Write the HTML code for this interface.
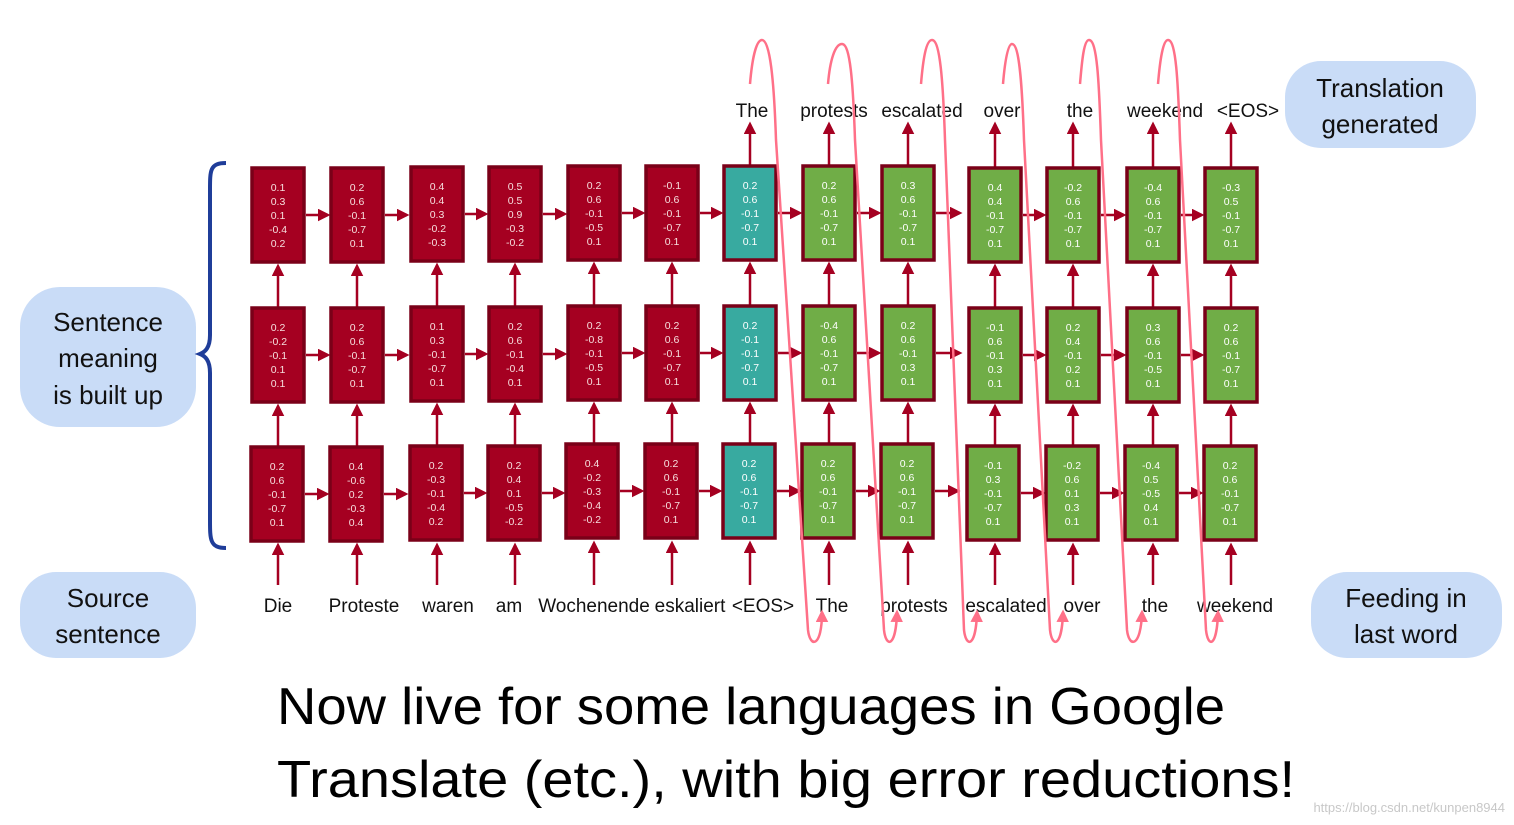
<!DOCTYPE html>
<html><head><meta charset="utf-8"><style>
html,body{margin:0;padding:0;background:#fff;}
svg{display:block;font-family:"Liberation Sans",sans-serif;}
.r rect{fill:#a50021;stroke:#7a0018;stroke-width:3.5}
.t rect{fill:#38aaa0;stroke:#7a0018;stroke-width:3.5}
.g rect{fill:#70ad47;stroke:#7a0018;stroke-width:3.5}
.r text{fill:#f6dede}
.t text,.g text{fill:#ffffff}
g text{font-size:10.5px;text-anchor:middle}
.lbl{font-size:19px;fill:#111;text-anchor:middle}
.bub{font-size:26px;fill:#111;text-anchor:middle}
.ln{stroke:#a50021;stroke-width:2.5;fill:none}
.pk{stroke:#ff7088;stroke-width:2.5;fill:none}
</style></head><body>
<svg width="1514" height="825" viewBox="0 0 1514 825">
<defs>
<marker id="a" viewBox="0 0 10 10" refX="8" refY="5" markerWidth="5" markerHeight="5" orient="auto"><path d="M0,0L10,5L0,10z" fill="#a50021"/></marker>
<marker id="p" viewBox="0 0 10 10" refX="8" refY="5" markerWidth="5" markerHeight="5" orient="auto"><path d="M0,0L10,5L0,10z" fill="#ff7088"/></marker>
</defs>

<!-- bubbles -->
<rect x="20" y="287" width="176" height="140" rx="40" fill="#c9dcf7"/>
<text class="bub" x="108" y="331">Sentence</text>
<text class="bub" x="108" y="367">meaning</text>
<text class="bub" x="108" y="404">is built up</text>
<rect x="20" y="572" width="176" height="86" rx="36" fill="#c9dcf7"/>
<text class="bub" x="108" y="607">Source</text>
<text class="bub" x="108" y="643">sentence</text>
<rect x="1285" y="61" width="191" height="87" rx="36" fill="#c9dcf7"/>
<text class="bub" x="1380" y="97">Translation</text>
<text class="bub" x="1380" y="133">generated</text>
<rect x="1311" y="572" width="191" height="86" rx="36" fill="#c9dcf7"/>
<text class="bub" x="1406" y="607">Feeding in</text>
<text class="bub" x="1406" y="643">last word</text>

<!-- brace -->
<path d="M226,163 C210,163 210,170 210,190 L210,335 C210,348 205,352 200,354 C205,356 210,360 210,373 L210,520 C210,540 210,548 226,548" stroke="#1f3d99" stroke-width="4" fill="none"/>

<!-- input arrows -->
<path class="ln" marker-end="url(#a)" d="M278,585V545"/><path class="ln" marker-end="url(#a)" d="M357,585V545"/><path class="ln" marker-end="url(#a)" d="M437,585V545"/><path class="ln" marker-end="url(#a)" d="M515,585V545"/><path class="ln" marker-end="url(#a)" d="M594,585V543"/><path class="ln" marker-end="url(#a)" d="M672,585V543"/><path class="ln" marker-end="url(#a)" d="M750,585V543"/><path class="ln" marker-end="url(#a)" d="M829,585V543"/><path class="ln" marker-end="url(#a)" d="M908,585V543"/><path class="ln" marker-end="url(#a)" d="M995,585V545"/><path class="ln" marker-end="url(#a)" d="M1073,585V545"/><path class="ln" marker-end="url(#a)" d="M1153,585V545"/><path class="ln" marker-end="url(#a)" d="M1231,585V545"/>
<!-- row3 -> row2 -->
<path class="ln" marker-end="url(#a)" d="M278,446V406"/><path class="ln" marker-end="url(#a)" d="M357,446V406"/><path class="ln" marker-end="url(#a)" d="M437,446V405"/><path class="ln" marker-end="url(#a)" d="M515,446V405"/><path class="ln" marker-end="url(#a)" d="M594,444V404"/><path class="ln" marker-end="url(#a)" d="M672,444V404"/><path class="ln" marker-end="url(#a)" d="M750,444V404"/><path class="ln" marker-end="url(#a)" d="M829,444V404"/><path class="ln" marker-end="url(#a)" d="M908,444V404"/><path class="ln" marker-end="url(#a)" d="M995,446V406"/><path class="ln" marker-end="url(#a)" d="M1073,446V406"/><path class="ln" marker-end="url(#a)" d="M1153,446V406"/><path class="ln" marker-end="url(#a)" d="M1231,446V406"/>
<!-- row2 -> row1 -->
<path class="ln" marker-end="url(#a)" d="M278,307V266"/><path class="ln" marker-end="url(#a)" d="M357,307V266"/><path class="ln" marker-end="url(#a)" d="M437,306V265"/><path class="ln" marker-end="url(#a)" d="M515,306V265"/><path class="ln" marker-end="url(#a)" d="M594,305V264"/><path class="ln" marker-end="url(#a)" d="M672,305V264"/><path class="ln" marker-end="url(#a)" d="M750,305V264"/><path class="ln" marker-end="url(#a)" d="M829,305V264"/><path class="ln" marker-end="url(#a)" d="M908,305V264"/><path class="ln" marker-end="url(#a)" d="M995,307V266"/><path class="ln" marker-end="url(#a)" d="M1073,307V266"/><path class="ln" marker-end="url(#a)" d="M1153,307V266"/><path class="ln" marker-end="url(#a)" d="M1231,307V266"/>
<!-- outputs -->
<path class="ln" marker-end="url(#a)" d="M750,165V124"/><path class="ln" marker-end="url(#a)" d="M829,165V124"/><path class="ln" marker-end="url(#a)" d="M908,165V124"/><path class="ln" marker-end="url(#a)" d="M995,167V124"/><path class="ln" marker-end="url(#a)" d="M1073,167V124"/><path class="ln" marker-end="url(#a)" d="M1153,167V124"/><path class="ln" marker-end="url(#a)" d="M1231,167V124"/>

<!-- horizontal arrows row1 -->
<path class="ln" marker-end="url(#a)" d="M306,215H328"/><path class="ln" marker-end="url(#a)" d="M385,215H407"/><path class="ln" marker-end="url(#a)" d="M465,214H486"/><path class="ln" marker-end="url(#a)" d="M543,214H565"/><path class="ln" marker-end="url(#a)" d="M622,213H643"/><path class="ln" marker-end="url(#a)" d="M700,213H721"/><path class="ln" marker-end="url(#a)" d="M778,213H800"/><path class="ln" marker-end="url(#a)" d="M857,213H879"/><path class="ln" marker-end="url(#a)" d="M936,213H960"/><path class="ln" marker-end="url(#a)" d="M1023,215H1044"/><path class="ln" marker-end="url(#a)" d="M1101,215H1124"/><path class="ln" marker-end="url(#a)" d="M1181,215H1202"/>
<!-- row2 -->
<path class="ln" marker-end="url(#a)" d="M306,355H328"/><path class="ln" marker-end="url(#a)" d="M385,355H407"/><path class="ln" marker-end="url(#a)" d="M465,354H486"/><path class="ln" marker-end="url(#a)" d="M543,354H565"/><path class="ln" marker-end="url(#a)" d="M622,353H643"/><path class="ln" marker-end="url(#a)" d="M700,353H721"/><path class="ln" marker-end="url(#a)" d="M778,353H800"/><path class="ln" marker-end="url(#a)" d="M857,353H879"/><path class="ln" marker-end="url(#a)" d="M936,353H960"/><path class="ln" marker-end="url(#a)" d="M1023,355H1044"/><path class="ln" marker-end="url(#a)" d="M1101,355H1124"/><path class="ln" marker-end="url(#a)" d="M1181,355H1202"/>
<!-- row3 -->
<path class="ln" marker-end="url(#a)" d="M305,494H327"/><path class="ln" marker-end="url(#a)" d="M384,494H406"/><path class="ln" marker-end="url(#a)" d="M464,493H485"/><path class="ln" marker-end="url(#a)" d="M542,493H563"/><path class="ln" marker-end="url(#a)" d="M620,491H642"/><path class="ln" marker-end="url(#a)" d="M699,491H720"/><path class="ln" marker-end="url(#a)" d="M777,491H799"/><path class="ln" marker-end="url(#a)" d="M856,491H878"/><path class="ln" marker-end="url(#a)" d="M935,491H958"/><path class="ln" marker-end="url(#a)" d="M1021,493H1043"/><path class="ln" marker-end="url(#a)" d="M1100,493H1122"/><path class="ln" marker-end="url(#a)" d="M1179,493H1201"/>

<!-- boxes row1 -->
<g class="r" transform="translate(252,168)"><rect width="52" height="94"/><text x="26" y="23">0.1</text><text x="26" y="37">0.3</text><text x="26" y="51">0.1</text><text x="26" y="65">-0.4</text><text x="26" y="79">0.2</text></g>
<g class="r" transform="translate(331,168)"><rect width="52" height="94"/><text x="26" y="23">0.2</text><text x="26" y="37">0.6</text><text x="26" y="51">-0.1</text><text x="26" y="65">-0.7</text><text x="26" y="79">0.1</text></g>
<g class="r" transform="translate(411,167)"><rect width="52" height="94"/><text x="26" y="23">0.4</text><text x="26" y="37">0.4</text><text x="26" y="51">0.3</text><text x="26" y="65">-0.2</text><text x="26" y="79">-0.3</text></g>
<g class="r" transform="translate(489,167)"><rect width="52" height="94"/><text x="26" y="23">0.5</text><text x="26" y="37">0.5</text><text x="26" y="51">0.9</text><text x="26" y="65">-0.3</text><text x="26" y="79">-0.2</text></g>
<g class="r" transform="translate(568,166)"><rect width="52" height="94"/><text x="26" y="23">0.2</text><text x="26" y="37">0.6</text><text x="26" y="51">-0.1</text><text x="26" y="65">-0.5</text><text x="26" y="79">0.1</text></g>
<g class="r" transform="translate(646,166)"><rect width="52" height="94"/><text x="26" y="23">-0.1</text><text x="26" y="37">0.6</text><text x="26" y="51">-0.1</text><text x="26" y="65">-0.7</text><text x="26" y="79">0.1</text></g>
<g class="t" transform="translate(724,166)"><rect width="52" height="94"/><text x="26" y="23">0.2</text><text x="26" y="37">0.6</text><text x="26" y="51">-0.1</text><text x="26" y="65">-0.7</text><text x="26" y="79">0.1</text></g>
<g class="g" transform="translate(803,166)"><rect width="52" height="94"/><text x="26" y="23">0.2</text><text x="26" y="37">0.6</text><text x="26" y="51">-0.1</text><text x="26" y="65">-0.7</text><text x="26" y="79">0.1</text></g>
<g class="g" transform="translate(882,166)"><rect width="52" height="94"/><text x="26" y="23">0.3</text><text x="26" y="37">0.6</text><text x="26" y="51">-0.1</text><text x="26" y="65">-0.7</text><text x="26" y="79">0.1</text></g>
<g class="g" transform="translate(969,168)"><rect width="52" height="94"/><text x="26" y="23">0.4</text><text x="26" y="37">0.4</text><text x="26" y="51">-0.1</text><text x="26" y="65">-0.7</text><text x="26" y="79">0.1</text></g>
<g class="g" transform="translate(1047,168)"><rect width="52" height="94"/><text x="26" y="23">-0.2</text><text x="26" y="37">0.6</text><text x="26" y="51">-0.1</text><text x="26" y="65">-0.7</text><text x="26" y="79">0.1</text></g>
<g class="g" transform="translate(1127,168)"><rect width="52" height="94"/><text x="26" y="23">-0.4</text><text x="26" y="37">0.6</text><text x="26" y="51">-0.1</text><text x="26" y="65">-0.7</text><text x="26" y="79">0.1</text></g>
<g class="g" transform="translate(1205,168)"><rect width="52" height="94"/><text x="26" y="23">-0.3</text><text x="26" y="37">0.5</text><text x="26" y="51">-0.1</text><text x="26" y="65">-0.7</text><text x="26" y="79">0.1</text></g>
<!-- row2 -->
<g class="r" transform="translate(252,308)"><rect width="52" height="94"/><text x="26" y="23">0.2</text><text x="26" y="37">-0.2</text><text x="26" y="51">-0.1</text><text x="26" y="65">0.1</text><text x="26" y="79">0.1</text></g>
<g class="r" transform="translate(331,308)"><rect width="52" height="94"/><text x="26" y="23">0.2</text><text x="26" y="37">0.6</text><text x="26" y="51">-0.1</text><text x="26" y="65">-0.7</text><text x="26" y="79">0.1</text></g>
<g class="r" transform="translate(411,307)"><rect width="52" height="94"/><text x="26" y="23">0.1</text><text x="26" y="37">0.3</text><text x="26" y="51">-0.1</text><text x="26" y="65">-0.7</text><text x="26" y="79">0.1</text></g>
<g class="r" transform="translate(489,307)"><rect width="52" height="94"/><text x="26" y="23">0.2</text><text x="26" y="37">0.6</text><text x="26" y="51">-0.1</text><text x="26" y="65">-0.4</text><text x="26" y="79">0.1</text></g>
<g class="r" transform="translate(568,306)"><rect width="52" height="94"/><text x="26" y="23">0.2</text><text x="26" y="37">-0.8</text><text x="26" y="51">-0.1</text><text x="26" y="65">-0.5</text><text x="26" y="79">0.1</text></g>
<g class="r" transform="translate(646,306)"><rect width="52" height="94"/><text x="26" y="23">0.2</text><text x="26" y="37">0.6</text><text x="26" y="51">-0.1</text><text x="26" y="65">-0.7</text><text x="26" y="79">0.1</text></g>
<g class="t" transform="translate(724,306)"><rect width="52" height="94"/><text x="26" y="23">0.2</text><text x="26" y="37">-0.1</text><text x="26" y="51">-0.1</text><text x="26" y="65">-0.7</text><text x="26" y="79">0.1</text></g>
<g class="g" transform="translate(803,306)"><rect width="52" height="94"/><text x="26" y="23">-0.4</text><text x="26" y="37">0.6</text><text x="26" y="51">-0.1</text><text x="26" y="65">-0.7</text><text x="26" y="79">0.1</text></g>
<g class="g" transform="translate(882,306)"><rect width="52" height="94"/><text x="26" y="23">0.2</text><text x="26" y="37">0.6</text><text x="26" y="51">-0.1</text><text x="26" y="65">0.3</text><text x="26" y="79">0.1</text></g>
<g class="g" transform="translate(969,308)"><rect width="52" height="94"/><text x="26" y="23">-0.1</text><text x="26" y="37">0.6</text><text x="26" y="51">-0.1</text><text x="26" y="65">0.3</text><text x="26" y="79">0.1</text></g>
<g class="g" transform="translate(1047,308)"><rect width="52" height="94"/><text x="26" y="23">0.2</text><text x="26" y="37">0.4</text><text x="26" y="51">-0.1</text><text x="26" y="65">0.2</text><text x="26" y="79">0.1</text></g>
<g class="g" transform="translate(1127,308)"><rect width="52" height="94"/><text x="26" y="23">0.3</text><text x="26" y="37">0.6</text><text x="26" y="51">-0.1</text><text x="26" y="65">-0.5</text><text x="26" y="79">0.1</text></g>
<g class="g" transform="translate(1205,308)"><rect width="52" height="94"/><text x="26" y="23">0.2</text><text x="26" y="37">0.6</text><text x="26" y="51">-0.1</text><text x="26" y="65">-0.7</text><text x="26" y="79">0.1</text></g>
<!-- row3 -->
<g class="r" transform="translate(251,447)"><rect width="52" height="94"/><text x="26" y="23">0.2</text><text x="26" y="37">0.6</text><text x="26" y="51">-0.1</text><text x="26" y="65">-0.7</text><text x="26" y="79">0.1</text></g>
<g class="r" transform="translate(330,447)"><rect width="52" height="94"/><text x="26" y="23">0.4</text><text x="26" y="37">-0.6</text><text x="26" y="51">0.2</text><text x="26" y="65">-0.3</text><text x="26" y="79">0.4</text></g>
<g class="r" transform="translate(410,446)"><rect width="52" height="94"/><text x="26" y="23">0.2</text><text x="26" y="37">-0.3</text><text x="26" y="51">-0.1</text><text x="26" y="65">-0.4</text><text x="26" y="79">0.2</text></g>
<g class="r" transform="translate(488,446)"><rect width="52" height="94"/><text x="26" y="23">0.2</text><text x="26" y="37">0.4</text><text x="26" y="51">0.1</text><text x="26" y="65">-0.5</text><text x="26" y="79">-0.2</text></g>
<g class="r" transform="translate(566,444)"><rect width="52" height="94"/><text x="26" y="23">0.4</text><text x="26" y="37">-0.2</text><text x="26" y="51">-0.3</text><text x="26" y="65">-0.4</text><text x="26" y="79">-0.2</text></g>
<g class="r" transform="translate(645,444)"><rect width="52" height="94"/><text x="26" y="23">0.2</text><text x="26" y="37">0.6</text><text x="26" y="51">-0.1</text><text x="26" y="65">-0.7</text><text x="26" y="79">0.1</text></g>
<g class="t" transform="translate(723,444)"><rect width="52" height="94"/><text x="26" y="23">0.2</text><text x="26" y="37">0.6</text><text x="26" y="51">-0.1</text><text x="26" y="65">-0.7</text><text x="26" y="79">0.1</text></g>
<g class="g" transform="translate(802,444)"><rect width="52" height="94"/><text x="26" y="23">0.2</text><text x="26" y="37">0.6</text><text x="26" y="51">-0.1</text><text x="26" y="65">-0.7</text><text x="26" y="79">0.1</text></g>
<g class="g" transform="translate(881,444)"><rect width="52" height="94"/><text x="26" y="23">0.2</text><text x="26" y="37">0.6</text><text x="26" y="51">-0.1</text><text x="26" y="65">-0.7</text><text x="26" y="79">0.1</text></g>
<g class="g" transform="translate(967,446)"><rect width="52" height="94"/><text x="26" y="23">-0.1</text><text x="26" y="37">0.3</text><text x="26" y="51">-0.1</text><text x="26" y="65">-0.7</text><text x="26" y="79">0.1</text></g>
<g class="g" transform="translate(1046,446)"><rect width="52" height="94"/><text x="26" y="23">-0.2</text><text x="26" y="37">0.6</text><text x="26" y="51">0.1</text><text x="26" y="65">0.3</text><text x="26" y="79">0.1</text></g>
<g class="g" transform="translate(1125,446)"><rect width="52" height="94"/><text x="26" y="23">-0.4</text><text x="26" y="37">0.5</text><text x="26" y="51">-0.5</text><text x="26" y="65">0.4</text><text x="26" y="79">0.1</text></g>
<g class="g" transform="translate(1204,446)"><rect width="52" height="94"/><text x="26" y="23">0.2</text><text x="26" y="37">0.6</text><text x="26" y="51">-0.1</text><text x="26" y="65">-0.7</text><text x="26" y="79">0.1</text></g>

<!-- labels -->
<text class="lbl" x="278" y="612">Die</text>
<text class="lbl" x="364" y="612">Proteste</text>
<text class="lbl" x="448" y="612">waren</text>
<text class="lbl" x="509" y="612">am</text>
<text class="lbl" x="594" y="612">Wochenende</text>
<text class="lbl" x="690" y="612">eskaliert</text>
<text class="lbl" x="763" y="612">&lt;EOS&gt;</text>
<text class="lbl" x="832" y="612">The</text>
<text class="lbl" x="914" y="612">protests</text>
<text class="lbl" x="1006" y="612">escalated</text>
<text class="lbl" x="1082" y="612">over</text>
<text class="lbl" x="1155" y="612">the</text>
<text class="lbl" x="1235" y="612">weekend</text>
<text class="lbl" x="752" y="117">The</text>
<text class="lbl" x="834" y="117">protests</text>
<text class="lbl" x="922" y="117">escalated</text>
<text class="lbl" x="1002" y="117">over</text>
<text class="lbl" x="1080" y="117">the</text>
<text class="lbl" x="1165" y="117">weekend</text>
<text class="lbl" x="1248" y="117">&lt;EOS&gt;</text>

<!-- pink loops -->
<path class="pk" marker-end="url(#p)" d="M750,84 C752,60 756,40 762,40 C770,40 774,80 776,140 L808,630 C810,648 822,648 822,612"/>
<path class="pk" marker-end="url(#p)" d="M828,84 C830,60 835,44 842,44 C850,44 853,80 855,140 L884,630 C886,648 896,648 897,612"/>
<path class="pk" marker-end="url(#p)" d="M921,84 C923,60 926,40 932,40 C940,40 943,80 945,140 L964,630 C966,648 976,648 977,612"/>
<path class="pk" marker-end="url(#p)" d="M1003,84 C1005,60 1008,44 1012,44 C1019,44 1022,80 1024,140 L1050,630 C1052,648 1062,648 1063,612"/>
<path class="pk" marker-end="url(#p)" d="M1080,84 C1082,60 1084,40 1089,40 C1097,40 1099,80 1101,140 L1127,630 C1129,648 1141,648 1142,612"/>
<path class="pk" marker-end="url(#p)" d="M1158,84 C1160,60 1163,40 1168,40 C1176,40 1178,80 1180,140 L1206,630 C1208,648 1217,648 1218,612"/>

<!-- big text -->
<text x="277" y="724" font-size="52" fill="#000" textLength="948" lengthAdjust="spacingAndGlyphs">Now live for some languages in Google</text>
<text x="277" y="797" font-size="52" fill="#000" textLength="1018" lengthAdjust="spacingAndGlyphs">Translate (etc.), with big error reductions!</text>
<text x="1505" y="812" font-size="13" fill="#c8c8c8" text-anchor="end">https://blog.csdn.net/kunpen8944</text>
</svg>
</body></html>
